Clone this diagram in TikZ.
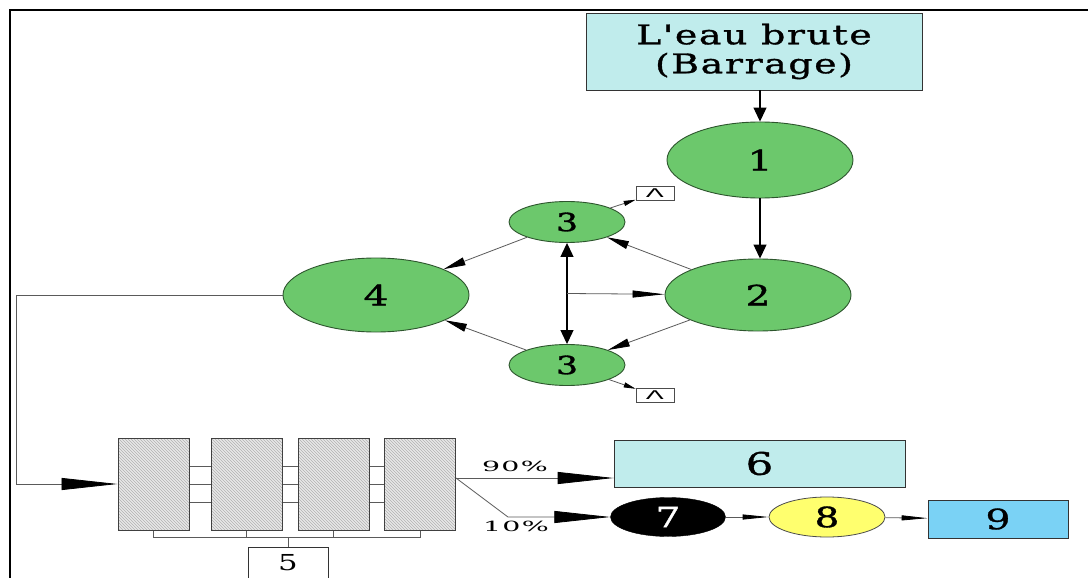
\documentclass[tikz,border=0pt]{standalone}
\usepackage{fontspec}
\usetikzlibrary{shapes.geometric,arrows.meta,patterns,calc}
\newfontfamily\dfont[FakeStretch=1.4,LetterSpace=6,FakeBold=1.2]{DejaVu Serif}
\newfontfamily\pfont[FakeStretch=1.4,LetterSpace=6]{DejaVu Serif}
\newfontfamily\sfont{DejaVu Sans}

\definecolor{stagegreen}{RGB}{108,200,108}
\definecolor{stageedge}{RGB}{45,85,45}
\definecolor{paleblue}{RGB}{192,236,236}
\definecolor{skyblue}{RGB}{122,210,245}
\definecolor{paleyellow}{RGB}{255,255,110}
\definecolor{linegray}{RGB}{90,90,90}

\tikzset{
  stage/.style={ellipse, draw=stageedge, line width=0.9pt, fill=stagegreen, inner sep=0pt, font=\dfont\fontsize{28}{28}\selectfont},
  tank/.style={draw=black!80, line width=0.8pt, inner sep=0pt},
  marker/.style={draw=black!70, line width=0.6pt, inner sep=0pt, minimum width=38pt, minimum height=14pt, font=\sfont\fontsize{12}{12}\selectfont},
  filterbox/.style={draw=black!75, line width=1pt, minimum width=71pt, minimum height=92pt, inner sep=0pt,
    preaction={fill=gray!18}, pattern=north west lines, pattern color=gray!60},
  thin/.style={draw=linegray, line width=0.8pt},
  bigtip/.style={-{Triangle[length=56pt,width=12pt,color=black]}},
  midtip/.style={-{Triangle[length=22pt,width=8pt,color=black]}},
  smalltip/.style={-{Triangle[length=12pt,width=5pt,color=black]}},
  downtip/.style={-{Triangle[length=14pt,width=13pt]}},
  pct/.style={font=\pfont\fontsize{14}{14}\selectfont, inner sep=0pt}
}

\begin{document}
\begin{tikzpicture}[x=1pt,y=-1pt]
\clip (0,0) rectangle (1088,578);
\fill[white] (0,0) rectangle (1088,578);

% page frame
\draw[line width=2pt] (10,578) -- (10,10) -- (1088,10);

% raw water source
\node[tank, fill=paleblue, minimum width=336pt, minimum height=77pt, align=center,
      font=\dfont\fontsize{27}{29}\selectfont] (src) at (754,51.5) {L'eau brute\\(Barrage)};

% treatment stages
\node[stage, minimum width=186pt, minimum height=76pt] (e1) at (760,160) {1};
\node[stage, minimum width=186pt, minimum height=72pt] (e2) at (758,295) {2};
\node[stage, minimum width=186pt, minimum height=74pt] (e4) at (376,295) {4};
\node[stage, minimum width=116pt, minimum height=41pt, font=\dfont\fontsize{25}{25}\selectfont] (e3t) at (567,222) {3};
\node[stage, minimum width=116pt, minimum height=41pt, font=\dfont\fontsize{25}{25}\selectfont] (e3b) at (567,365) {3};

\node[marker] (mt) at (655,193.5) {\scalebox{2.2}[1]{Λ}};
\node[marker] (mb) at (655,395.5) {\scalebox{2.2}[1]{Λ}};

% vertical feed
\draw[black, line width=1.2pt, downtip] (src.south -| e1) -- (e1);
\draw[black, line width=1.2pt, downtip] (e1) -- (e2.north -| e1);

% exchanges between the stages
\draw[thin, midtip] (e2) -- (e3t);
\draw[thin, midtip] (e2) -- (e3b);
\draw[thin, midtip] (e3t) -- (e4);
\draw[thin, midtip] (e3b) -- (e4);
\draw[black, line width=1.2pt, {Triangle[length=14pt,width=13pt]}-{Triangle[length=14pt,width=13pt]}] (e3t) -- (e3b);
\coordinate (mid) at ($(e3t)!0.5!(e3b)$);
\draw[thin, -{Triangle[length=32pt,width=7pt,color=black]}] (mid) -- (e2);
\draw[thin, smalltip] (e3t) -- (mt);
\draw[thin, smalltip] (e3b) -- (mb);

% filter bank
\node[filterbox] (f1) at (153.5,484) {};
\node[filterbox] (f2) at (246.5,484) {};
\node[filterbox] (f3) at (333.5,484) {};
\node[filterbox] (f4) at (420,484) {};

\foreach \a/\b in {f1/f2,f2/f3,f3/f4}{
  \foreach \dy in {18,0,-18}{
    \draw[thin] ([yshift=\dy pt]\a.east) -- ([yshift=\dy pt]\b.west);
  }
}

% feed from stage 4 to the filters
\draw[thin, bigtip] (e4.west) -- ++(-266,0) |- (f1.west);

% wash water collector
\foreach \f in {f1,f2,f3,f4}{
  \draw[thin] (\f.south) -- ++(0,7);
}
\draw[thin] ($(f1.south)+(0,7)$) -- ($(f4.south)+(0,7)$);
\node[tank, line width=0.9pt, minimum width=80pt, minimum height=44pt, anchor=north] (r5) at (288,547) {};
\node[font=\pfont\fontsize{22}{22}\selectfont, inner sep=0pt] (t5) at (288,563) {5};
\draw[thin] (288,537) -- (r5.north);

% outlets
\coordinate (out) at (456,478);
\node[tank, fill=paleblue, minimum width=291pt, minimum height=47pt,
      font=\dfont\fontsize{31}{31}\selectfont] (b6) at (759.5,463.5) {6};
\node[ellipse, fill=black, draw=black, minimum width=115pt, minimum height=39pt, inner sep=0pt,
      text=white, font=\dfont\fontsize{28}{28}\selectfont] (e7) at (668,517) {7};
\node[ellipse, fill=paleyellow, draw=black!70, line width=0.8pt, minimum width=116pt, minimum height=40pt, inner sep=0pt,
      font=\dfont\fontsize{28}{28}\selectfont] (e8) at (827,517) {8};
\node[tank, fill=skyblue, minimum width=140pt, minimum height=38pt,
      font=\dfont\fontsize{28}{28}\selectfont] (b9) at (998,519) {9};

\draw[thin, bigtip] (out) -- (b6.west |- out);
\node[pct] (p90) at (515,466) {\scalebox{1.45}[1]{90\%}};
\coordinate (bend) at (508,517);
\draw[thin, bigtip] (out) -- (bend) -- (e7.west);
\node[pct] (p10) at (516,526) {\scalebox{1.45}[1]{10\%}};
\draw[thin, -{Triangle[length=26pt,width=5pt,color=black]}] (e7) -- (e8);
\draw[thin, -{Triangle[length=26pt,width=5pt,color=black]}] (e8) -- (b9);
\end{tikzpicture}
\end{document}
